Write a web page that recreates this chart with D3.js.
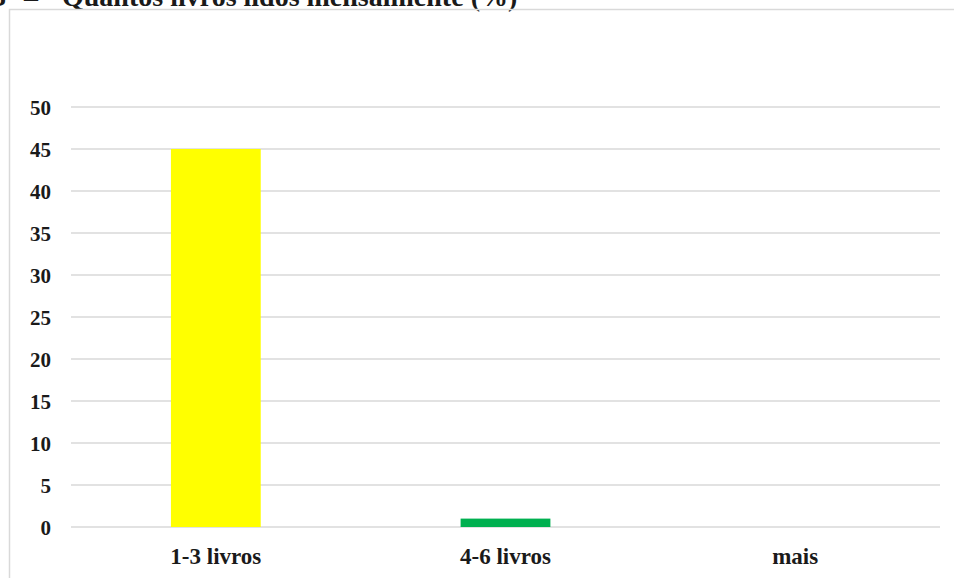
<!DOCTYPE html>
<html>
<head>
<meta charset="utf-8">
<script src="https://cdn.jsdelivr.net/npm/d3@7"></script>
<style>
  html, body { margin: 0; padding: 0; background: #fff; }
  svg { display: block; }
  text { font-family: "Liberation Serif", "Times New Roman", serif; font-weight: bold; fill: #1a1a1a; }
</style>
</head>
<body>
<svg id="chart" width="954" height="578"></svg>
<script>
// Livros lidos por mês (%)
const categories = ["1-3 livros", "4-6 livros", "mais"];
const values = [45, 1, 0];
const barColors = ["#ffff00", "#00b050", "#5b9bd5"];
const yTicks = [0, 5, 10, 15, 20, 25, 30, 35, 40, 45, 50];
const titleParts = ["3", "–", "Quantos livros lidos mensalmente (%)"];

const svg = d3.select("#chart");
const W = 954, H = 578;
const plot = { left: 71, right: 940, top: 107, bottom: 527 };

// Title line above the chart area
const title = svg.append("text")
  .attr("y", 6)
  .attr("font-size", 28);
title.append("tspan").attr("x", -8).text(titleParts[0]);
title.append("tspan").attr("x", 24).text(titleParts[1]);
title.append("tspan").attr("x", 62).text(titleParts[2]);

// Chart area frame
svg.append("rect")
  .attr("x", 9.5).attr("y", 9.5)
  .attr("width", W + 20).attr("height", H + 20)
  .attr("fill", "none")
  .attr("stroke", "#d9d9d9")
  .attr("stroke-width", 1.5);

const x = d3.scaleBand()
  .domain(categories)
  .range([plot.left, plot.right])
  .paddingInner(0.69)
  .paddingOuter(0.345);

const y = d3.scaleLinear()
  .domain([0, 50])
  .range([plot.bottom, plot.top]);

// Horizontal gridlines
svg.append("g")
  .selectAll("line")
  .data(yTicks)
  .join("line")
  .attr("x1", plot.left).attr("x2", plot.right)
  .attr("y1", d => y(d)).attr("y2", d => y(d))
  .attr("stroke", "#d9d9d9")
  .attr("stroke-width", 1.5);

// Y axis labels
const yAxis = d3.axisLeft(y).tickValues(yTicks).tickSize(0).tickPadding(0);
const gy = svg.append("g")
  .attr("transform", `translate(51,0)`)
  .call(yAxis);
gy.select(".domain").remove();
gy.selectAll("text")
  .attr("font-size", 21)
  .attr("font-family", "Liberation Serif, Times New Roman, serif")
  .attr("font-weight", "bold")
  .attr("fill", "#1a1a1a")
  .attr("dy", "0.35em");

// Bars
svg.append("g")
  .selectAll("rect")
  .data(categories)
  .join("rect")
  .attr("x", d => x(d))
  .attr("width", x.bandwidth())
  .attr("y", (d, i) => y(values[i]))
  .attr("height", (d, i) => y(0) - y(values[i]))
  .attr("fill", (d, i) => barColors[i]);

// Category labels
const xAxis = d3.axisBottom(x).tickSize(0).tickPadding(0);
const gx = svg.append("g")
  .attr("transform", `translate(0,${plot.bottom + 37})`)
  .call(xAxis);
gx.select(".domain").remove();
gx.selectAll("text")
  .attr("font-size", 23)
  .attr("font-family", "Liberation Serif, Times New Roman, serif")
  .attr("font-weight", "bold")
  .attr("fill", "#1a1a1a")
  .attr("dy", 0);
</script>
</body>
</html>
